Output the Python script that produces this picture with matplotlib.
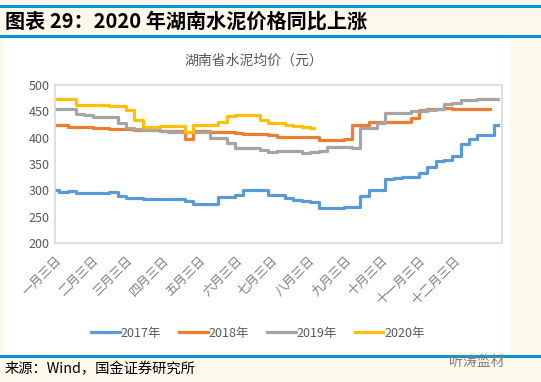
import numpy as np
import matplotlib
matplotlib.use("Agg")
import matplotlib.pyplot as plt
from matplotlib.lines import Line2D

plt.rcParams['font.family'] = ['Noto Sans CJK SC', 'DejaVu Sans']

# weekly samples of the Hunan cement average price
p2017 = [300, 297, 298, 295, 295, 295, 295, 296, 289, 285, 285, 284, 284, 284, 284, 284,
         280, 275, 275, 274, 288, 288, 292, 300, 301, 300, 292, 292, 286, 282, 280, 278,
         266, 266, 266, 269, 268, 290, 300, 300, 321, 323, 325, 326, 332, 345, 356, 357,
         365, 388, 397, 405, 405, 424]
p2018 = [425, 425, 421, 420, 420, 419, 418, 417, 417, 416, 415, 415, 414, 413, 413, 412,
         398, 412, 412, 411, 410, 410, 408, 407, 407, 407, 406, 402, 402, 401, 401, 401,
         396, 396, 395, 398, 425, 425, 430, 430, 430, 430, 430, 437, 453, 455, 455, 456,
         455, 455, 455, 455, 455]
p2019 = [454, 454, 454, 444, 443, 440, 440, 440, 428, 418, 416, 415, 415, 413, 411, 410,
         410, 410, 410, 399, 399, 389, 380, 380, 380, 376, 372, 374, 374, 374, 370, 372,
         375, 383, 383, 382, 380, 418, 419, 428, 447, 447, 447, 450, 451, 453, 455, 463,
         466, 472, 472, 473, 473, 473]
p2020 = [473, 473, 473, 462, 462, 462, 462, 461, 460, 452, 433, 420, 420, 423, 423, 423,
         410, 424, 424, 424, 430, 442, 443, 443, 443, 433, 428, 427, 424, 422, 421, 419]

years = ['2017年', '2018年', '2019年', '2020年']
colors = ['#5B9BD5', '#ED7D31', '#A5A5A5', '#FFC000']
month_labels = ['一月三日', '二月三日', '三月三日', '四月三日', '五月三日', '六月三日',
                '七月三日', '八月三日', '九月三日', '十月三日', '十一月三日', '十二月三日']
month_days = [0, 31, 59, 90, 120, 151, 181, 212, 243, 273, 304, 334]

bg = '#FDF8EC'
rule = '#0096D6'
txt = '#595959'

fig = plt.figure(figsize=(5.41, 3.82), dpi=100, facecolor=bg)

# white chart panel
fig.patches.append(plt.Rectangle((4 / 541, 1 - 352 / 382), 506 / 541, 314 / 382,
                                 transform=fig.transFigure, facecolor='white',
                                 edgecolor='none', zorder=-5))
for y in [6, 36, 356]:
    fig.add_artist(Line2D([0, 1], [1 - y / 382] * 2, color=rule, lw=2.2,
                          transform=fig.transFigure))

fig.text(5 / 541, 1 - 21 / 382, '图表 29：2020 年湖南水泥价格同比上涨', fontsize=14.5,
         fontweight='heavy', style='italic', va='center', ha='left', color='black')
fig.text(254 / 541, 1 - 61 / 382, '湖南省水泥均价（元）', fontsize=10, color=txt,
         ha='center', va='center')
fig.text(5 / 541, 1 - 369 / 382, '来源：Wind，国金证券研究所', fontsize=10.3,
         ha='left', va='center', color='black')
fig.text(505 / 541, 1 - 362 / 382, '听涛监材', fontsize=10, ha='right', va='center',
         color='#7F7F7F')

ax = fig.add_axes([55 / 541, 1 - 243 / 382, 447 / 541, 158 / 382])
ax.set_zorder(2)
ax.set_facecolor('white')
for vals, c, lab in zip([p2017, p2018, p2019, p2020], colors, years):
    days = np.arange(len(vals)) * 7
    ax.plot(days, vals, color=c, lw=2.3, label=lab, drawstyle='steps-mid',
            solid_joinstyle='round')

ax.set_xlim(0, 374)
ax.set_ylim(200, 500)
ax.set_yticks(range(200, 501, 50))
ax.set_xticks(month_days)
ax.set_xticklabels(month_labels, rotation=45, ha='right', va='top',
                   rotation_mode='anchor')
ax.tick_params(axis='y', length=0, labelsize=9, colors=txt, pad=4)
ax.tick_params(axis='x', length=0, labelsize=9, colors='#7F7F7F', pad=8)
for s in ax.spines.values():
    s.set_color('#D9D9D9')
    s.set_linewidth(1.2)

ax.legend(loc='center', bbox_to_anchor=(203 / 447, (243 - 333) / 158), ncol=4,
          frameon=False, fontsize=9, labelcolor=txt, handlelength=2.3,
          handletextpad=0.1, columnspacing=1.4)

fig.savefig('out.png', dpi=100, facecolor=bg)
